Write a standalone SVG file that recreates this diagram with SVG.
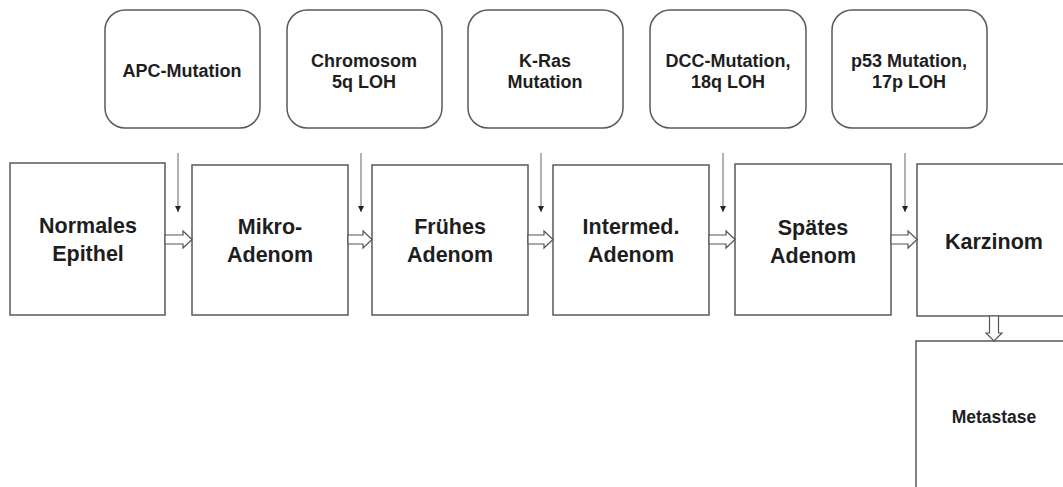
<svg xmlns="http://www.w3.org/2000/svg" width="1063" height="487" viewBox="0 0 1063 487">
<style>
.top{fill:#fff;stroke:#5a5a5a;stroke-width:1.5}
.box{fill:#fff;stroke:#5a5a5a;stroke-width:1.5}
.tl{font-family:"Liberation Sans",Arial,sans-serif;font-weight:bold;font-size:18px;fill:#1e1e1e;text-anchor:middle}
.ml{font-family:"Liberation Sans",Arial,sans-serif;font-weight:bold;font-size:21.5px;fill:#1e1e1e;text-anchor:middle}
.sl{font-family:"Liberation Sans",Arial,sans-serif;font-weight:bold;font-size:17.5px;fill:#1e1e1e;text-anchor:middle}
.thin{stroke:#666;stroke-width:1;fill:none}
.blk{fill:#fff;stroke:#555;stroke-width:1.2}
</style>
<defs>
<marker id="ah" markerWidth="8" markerHeight="8" refX="6" refY="3" orient="auto" markerUnits="userSpaceOnUse">
<path d="M0,0 L6,3 L0,6 Z" fill="#222"/>
</marker>
</defs>
<rect width="1063" height="487" fill="#fff"/>
<g id="m1"><rect class="top" x="105" y="10" width="155" height="118" rx="20"/><text class="tl" x="182" y="77">APC-Mutation</text></g>
<g id="m2"><rect class="top" x="287" y="10" width="155" height="118" rx="20"/><text class="tl" x="364" y="67">Chromosom</text><text class="tl" x="364" y="88">5q LOH</text></g>
<g id="m3"><rect class="top" x="468" y="10" width="155" height="118" rx="20"/><text class="tl" x="545" y="67">K-Ras</text><text class="tl" x="545" y="88">Mutation</text></g>
<g id="m4"><rect class="top" x="650" y="10" width="156" height="118" rx="20"/><text class="tl" x="728" y="67">DCC-Mutation,</text><text class="tl" x="728" y="88">18q LOH</text></g>
<g id="m5"><rect class="top" x="832" y="10" width="155" height="118" rx="20"/><text class="tl" x="909" y="67">p53 Mutation,</text><text class="tl" x="909" y="88">17p LOH</text></g>
<g id="n1"><rect class="box" x="10" y="163" width="155" height="152"/><text class="ml" x="88" y="233">Normales</text><text class="ml" x="88" y="261">Epithel</text></g>
<g id="n2"><rect class="box" x="192" y="165" width="156" height="150"/><text class="ml" x="270" y="234">Mikro-</text><text class="ml" x="270" y="262">Adenom</text></g>
<g id="n3"><rect class="box" x="372" y="165" width="156" height="150"/><text class="ml" x="450" y="234">Frühes</text><text class="ml" x="450" y="262">Adenom</text></g>
<g id="n4"><rect class="box" x="553" y="165" width="156" height="150"/><text class="ml" x="631" y="234">Intermed.</text><text class="ml" x="631" y="262">Adenom</text></g>
<g id="n5"><rect class="box" x="735" y="164" width="156" height="151"/><text class="ml" x="813" y="235">Spätes</text><text class="ml" x="813" y="263">Adenom</text></g>
<g id="n6"><rect class="box" x="917" y="164" width="156" height="152"/><text class="ml" x="994" y="249">Karzinom</text></g>
<g id="n7"><rect class="box" x="916" y="341" width="156" height="160"/><text class="sl" x="994" y="423">Metastase</text></g>
<g id="connectors">
<line class="thin" x1="178" y1="153" x2="178" y2="212" marker-end="url(#ah)"/>
<line class="thin" x1="361" y1="153" x2="361" y2="212" marker-end="url(#ah)"/>
<line class="thin" x1="541" y1="153" x2="541" y2="212" marker-end="url(#ah)"/>
<line class="thin" x1="723" y1="153" x2="723" y2="212" marker-end="url(#ah)"/>
<line class="thin" x1="905" y1="153" x2="905" y2="212" marker-end="url(#ah)"/>
<path class="blk" d="M165,235 L183,235 L183,231 L192,239.5 L183,248 L183,244 L165,244 Z"/>
<path class="blk" d="M348,235 L363,235 L363,231 L372,239.5 L363,248 L363,244 L348,244 Z"/>
<path class="blk" d="M528,235 L544,235 L544,231 L553,239.5 L544,248 L544,244 L528,244 Z"/>
<path class="blk" d="M709,235 L726,235 L726,231 L735,239.5 L726,248 L726,244 L709,244 Z"/>
<path class="blk" d="M891,235 L908,235 L908,231 L917,239.5 L908,248 L908,244 L891,244 Z"/>
<path class="blk" d="M989.5,316 L989.5,333 L986,333 L994,341 L1002,333 L998.5,333 L998.5,316 Z"/>
</g>
</svg>
